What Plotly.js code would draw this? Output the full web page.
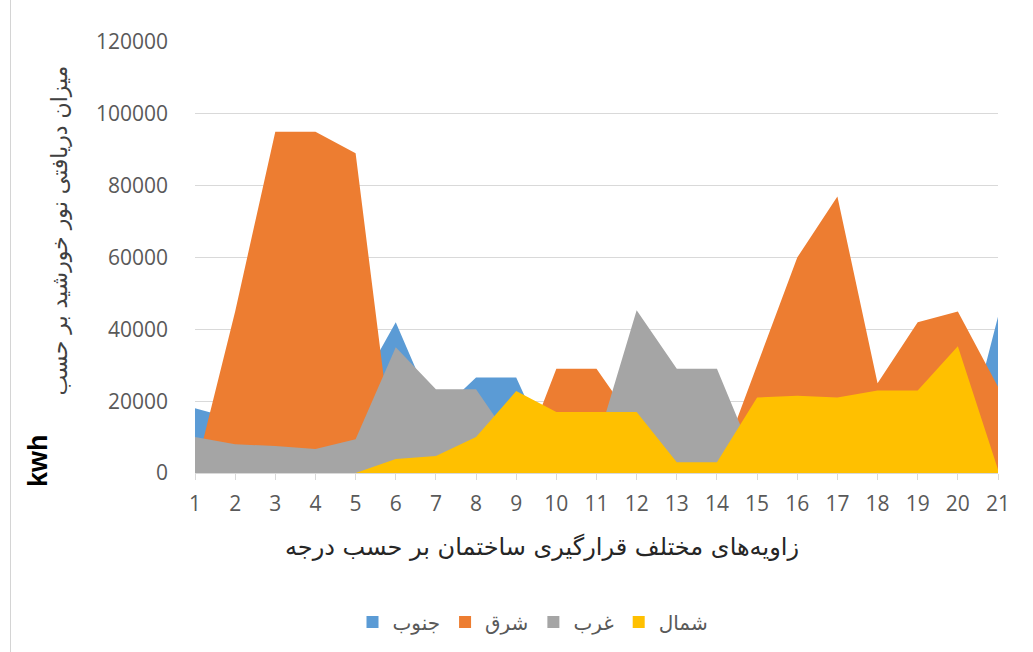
<!DOCTYPE html>
<html>
<head>
<meta charset="utf-8">
<script src="https://cdn.plot.ly/plotly-3.0.1.min.js"></script>
<style>
  html, body { margin: 0; padding: 0; background: #ffffff; }
  #wrap { position: relative; width: 1033px; height: 652px; }
  #chart { width: 1033px; height: 652px; }
  #edge { position: absolute; left: 10px; top: 0; width: 1px; height: 652px; background: #d4d4d4; }
</style>
</head>
<body>
<div id="wrap">
  <div id="chart"></div>
  <div id="edge"></div>
</div>
<script>
// Categories: building orientation angles (x axis)
const angles = [1, 2, 3, 4, 5, 6, 7, 8, 9, 10, 11, 12, 13, 14, 15, 16, 17, 18, 19, 20, 21];
const angleLabels = angles.map(String);

// Series names
const seriesNames = ['جنوب', 'شرق', 'غرب', 'شمال'];

// Values (kwh)
const south = [18000, 15000, 20000, 20000, 22000, 42000, 16000, 26600, 26600, 2000, 5000, 15000, 10000, 3000, 10000, 20000, 20000, 15000, 15000, 0, 43500];
const east  = [0, 45000, 95000, 95000, 89000, 0, 2000, 1000, 0, 29000, 29000, 13000, 5000, 0, 30000, 60000, 77000, 25000, 42000, 45000, 24000];
const west  = [10000, 8000, 7500, 6700, 9400, 35000, 23300, 23300, 7000, 5000, 8000, 45300, 29000, 29000, 2000, 3000, 4000, 3000, 4000, 5000, 0];
const north = [0, 0, 0, 0, 0, 3900, 4700, 10000, 22800, 17000, 17000, 17000, 3000, 3000, 21000, 21500, 21000, 23000, 23000, 35300, 1000];

const yTicks = [0, 20000, 40000, 60000, 80000, 100000, 120000];

const colors = ['#5B9BD5', '#ED7D31', '#A5A5A5', '#FFC000'];
const seriesData = [south, east, west, north];

// filled areas (drawn in order: later series on top)
const areaTraces = seriesData.map((vals, i) => ({
  type: 'scatter',
  mode: 'none',
  x: angles,
  y: vals,
  name: seriesNames[i],
  legendgroup: seriesNames[i],
  showlegend: false,
  fill: 'tozeroy',
  fillcolor: colors[i],
  hoverinfo: 'x+y+name'
}));

// legend entries with square swatches
const legendTraces = seriesNames.map((nm, i) => ({
  type: 'bar',
  x: [null],
  y: [null],
  name: nm,
  legendgroup: nm,
  marker: { color: colors[i] },
  showlegend: true,
  hoverinfo: 'skip'
}));

// pixel -> paper helpers (plot area: x 195..998, y 42..474)
const L = 195, R = 35, T = 42, B = 178, W = 1033, H = 652;
const pw = W - L - R, ph = H - T - B;
const px = v => (v - L) / pw;
const py = v => (H - B - v) / ph;

const layout = {
  width: W,
  height: H,
  margin: { l: L, r: R, t: T, b: B },
  paper_bgcolor: '#ffffff',
  plot_bgcolor: '#ffffff',
  font: { family: 'Open Sans, DejaVu Sans, sans-serif', color: '#595959' },
  showlegend: true,
  legend: {
    orientation: 'h',
    x: px(533), xanchor: 'center',
    y: py(622), yanchor: 'middle',
    font: { size: 20, color: '#595959', family: 'DejaVu Sans, sans-serif' },
    traceorder: 'normal',
    itemwidth: 30
  },
  xaxis: {
    range: [1, 21],
    tickmode: 'array',
    tickvals: angles,
    ticktext: angleLabels,
    showgrid: false,
    zeroline: false,
    showline: true,
    linecolor: '#d9d9d9',
    linewidth: 1,
    ticks: 'outside',
    ticklen: 6,
    tickcolor: '#d9d9d9',
    tickfont: { size: 21, color: '#595959' },
    ticklabelstandoff: 6,
    fixedrange: true
  },
  yaxis: {
    range: [0, 120000],
    tickmode: 'array',
    tickvals: yTicks,
    ticktext: yTicks.map(String),
    showgrid: true,
    gridcolor: '#d9d9d9',
    gridwidth: 1,
    zeroline: false,
    showline: false,
    ticks: '',
    tickfont: { size: 21, color: '#595959' },
    ticklabelstandoff: 26,
    fixedrange: true
  },
  annotations: [
    {
      text: 'زاویه‌های مختلف قرارگیری ساختمان بر حسب درجه',
      xref: 'paper', yref: 'paper',
      x: px(542), y: py(548),
      xanchor: 'center', yanchor: 'middle',
      showarrow: false,
      font: { size: 24, color: '#262626', family: 'DejaVu Sans, sans-serif' }
    },
    {
      text: 'میزان دریافتی نور خورشید بر حسب',
      xref: 'paper', yref: 'paper',
      x: px(60), y: py(231),
      xanchor: 'center', yanchor: 'middle',
      textangle: -90,
      showarrow: false,
      font: { size: 22, color: '#404040', family: 'DejaVu Sans, sans-serif' }
    },
    {
      text: '<b>kwh</b>',
      xref: 'paper', yref: 'paper',
      x: px(38), y: py(462),
      xanchor: 'center', yanchor: 'middle',
      textangle: -90,
      showarrow: false,
      font: { size: 27, color: '#000000', family: 'Liberation Sans, Arial, sans-serif' }
    }
  ]
};

Plotly.newPlot('chart', areaTraces.concat(legendTraces), layout, { displayModeBar: false, staticPlot: true });
</script>
</body>
</html>
